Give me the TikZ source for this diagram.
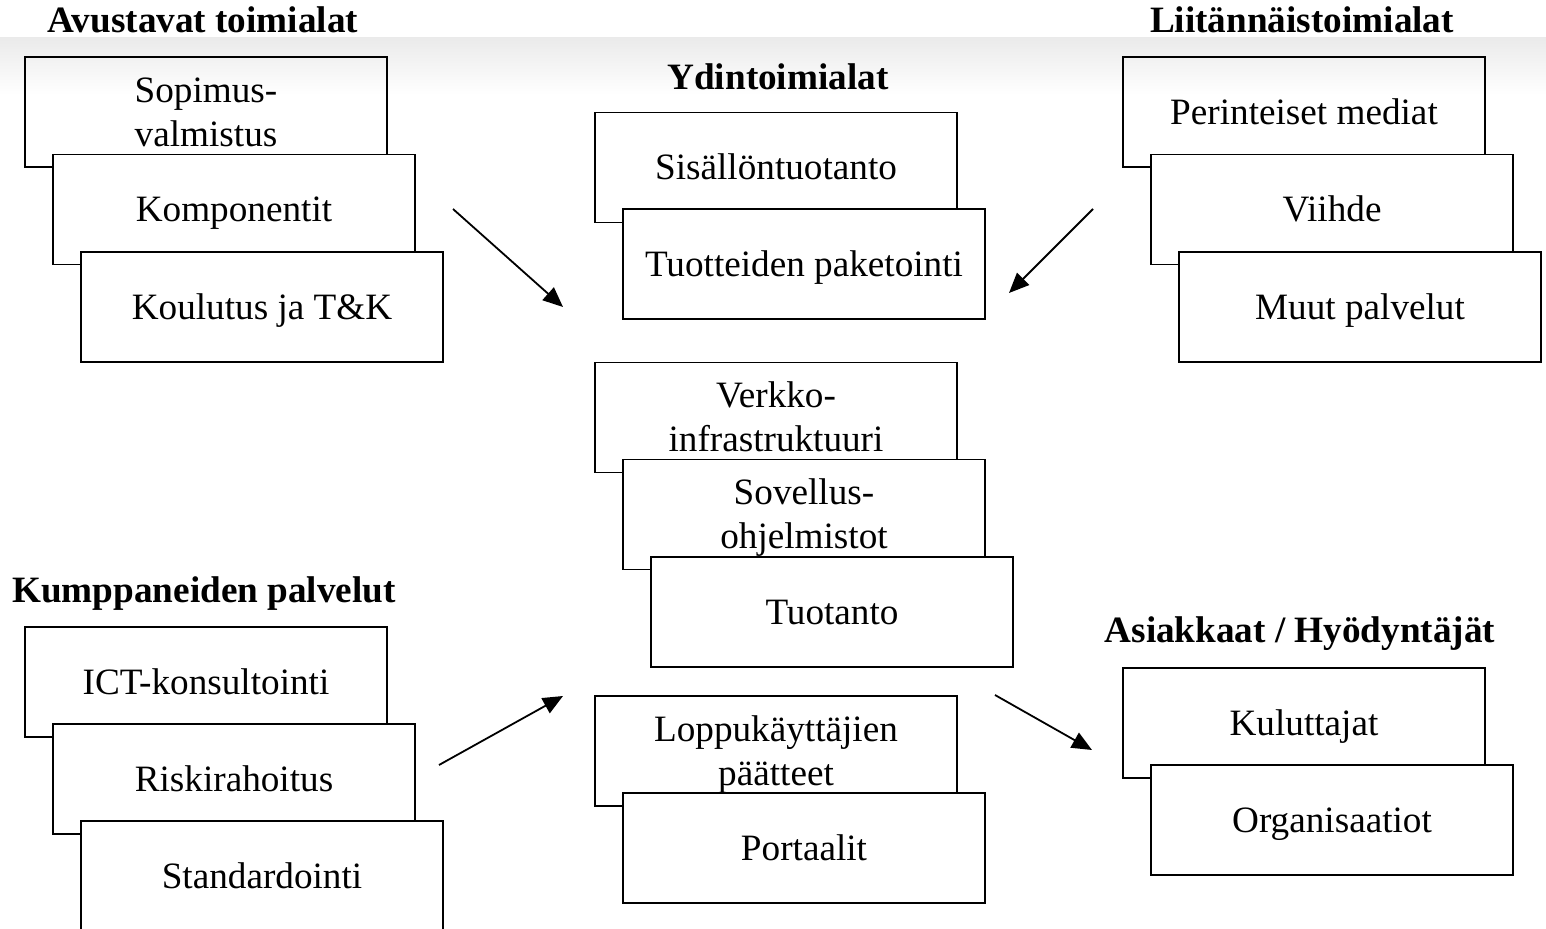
\documentclass[tikz,border=0pt]{standalone}
\usepackage{fontspec}
\setmainfont{Liberation Serif}
\usetikzlibrary{arrows.meta}

\tikzset{
	box/.style={draw, fill=white, line width=.9pt, minimum width=181pt, minimum height=55pt,
		inner sep=0pt, align=center, text height=12.5pt, text depth=0pt,
		font=\fontsize{18.6}{22}\selectfont},
	twoline/.style={box, text height=34.5pt},
	heading/.style={anchor=base, inner sep=0pt, font=\fontsize{18.6}{22}\selectfont\bfseries},
	arr/.style={line width=.9pt, -{Triangle[length=10pt,width=8.5pt]}}
}

\begin{document}
\begin{tikzpicture}[x=.5pt,y=-.5pt]
	\useasboundingbox (0,0) rectangle (1546,929);
	\shade[top color=black!8, bottom color=white] (0,38) rectangle (1546,95);

	% avustavat toimialat
	\node[heading] (avu) at (203,33) {Avustavat toimialat};
	\node[twoline, fill=none] (sopimus) at (206,112) {Sopimus-\\valmistus};
	\node[box] (kompo) at (234,209.5) {Komponentit};
	\node[box] (koulu) at (262,307) {Koulutus ja T\&K};

	% ydintoimialat
	\node[heading] (ydin) at (778,90) {Ydintoimialat};
	\node[box] (sisalto) at (776,167.5) {Sisällöntuotanto};
	\node[box] (paketti) at (804,264) {Tuotteiden paketointi};

	\node[twoline] (verkko) at (776,417.5) {Verkko-\\infrastruktuuri};
	\node[twoline] (sovellus) at (804,514.5) {Sovellus-\\ohjelmistot};
	\node[box] (tuotanto) at (832,612) {Tuotanto};

	\node[twoline] (paatteet) at (776,751) {Loppukäyttäjien\\päätteet};
	\node[box] (portaali) at (804,848) {Portaalit};

	% liitannaistoimialat
	\node[heading] (liit) at (1302,33) {Liitännäistoimialat};
	\node[box, fill=none] (mediat) at (1304,112) {Perinteiset mediat};
	\node[box] (viihde) at (1332,209.5) {Viihde};
	\node[box] (muut) at (1360,307) {Muut palvelut};

	% kumppaneiden palvelut
	\node[heading] (kump) at (204,603) {Kumppaneiden palvelut};
	\node[box] (ict) at (206,682) {ICT-konsultointi};
	\node[box] (riski) at (234,779) {Riskirahoitus};
	\node[box] (standard) at (262,876) {Standardointi};

	% asiakkaat
	\node[heading] (asiak) at (1300,643) {Asiakkaat / Hyödyntäjät};
	\node[box] (kulutt) at (1304,723) {Kuluttajat};
	\node[box] (organis) at (1332,820) {Organisaatiot};

	% nuolet
	\coordinate (a1) at (453,209);
	\coordinate (b1) at (563,307);
	\coordinate (a2) at (1093,209);
	\coordinate (b2) at (1009,293);
	\coordinate (a3) at (439,765);
	\coordinate (b3) at (563,696);
	\coordinate (a4) at (995,695);
	\coordinate (b4) at (1092,750);
	\draw[arr] (a1) -- (b1);
	\draw[arr] (a2) -- (b2);
	\draw[arr] (a3) -- (b3);
	\draw[arr] (a4) -- (b4);
\end{tikzpicture}
\end{document}
